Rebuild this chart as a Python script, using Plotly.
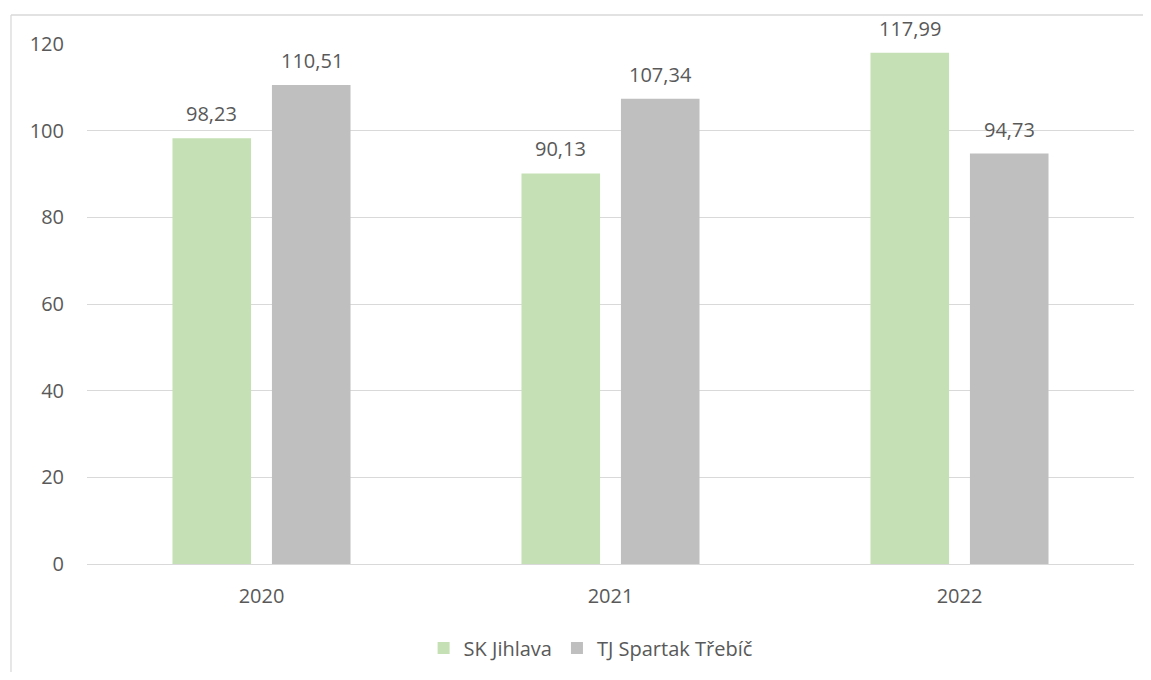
import plotly.graph_objects as go

# ── Data ───────────────────────────────────────────────────────────────────────
YEARS = ["2020", "2021", "2022"]
SK_JIHLAVA = [98.23, 90.13, 117.99]
TJ_TREBIC = [110.51, 107.34, 94.73]
Y_TICKS = [0, 20, 40, 60, 80, 100, 120]

# ── Design tokens ──────────────────────────────────────────────────────────────
GREEN = "#c5e0b4"
GREY = "#bfbfbf"
TEXT_COLOR = "#595959"
GRID_COLOR = "#d9d9d9"
FSIZE = 20
FONT = dict(family="Open Sans, Arial, sans-serif", size=FSIZE, color=TEXT_COLOR)

SERIES = [("SK Jihlava", SK_JIHLAVA, GREEN, -50),
          ("TJ Spartak Třebíč", TJ_TREBIC, GREY, 50)]

fig = go.Figure()
for name, vals, color, dx in SERIES:
    fig.add_trace(go.Bar(
        x=YEARS, y=vals, name=name,
        marker=dict(color=color, line=dict(width=0)),
    ))
    # value labels, Czech decimal comma (x by category index)
    for i, v in enumerate(vals):
        fig.add_annotation(
            x=i, y=v, text=f"{v:.2f}".replace(".", ","),
            showarrow=False, xshift=dx, yanchor="bottom", yshift=9,
            font=dict(size=FSIZE, color=TEXT_COLOR),
        )

# page body has an 8px margin, so the figure is sized to fit inside it
fig.update_layout(
    width=1135, height=664,
    font=FONT,
    plot_bgcolor="white",
    paper_bgcolor="white",
    margin=dict(l=79, r=9, t=36, b=108, autoexpand=False),
    barmode="group",
    bargap=0.43,
    bargroupgap=0.21,
    xaxis=dict(
        type="category",
        showgrid=False, showline=False, ticks="", ticklabelstandoff=18,
        tickfont=dict(size=FSIZE, color=TEXT_COLOR),
    ),
    yaxis=dict(
        range=[0, 120], tickvals=Y_TICKS,
        gridcolor=GRID_COLOR, gridwidth=1.3,
        zeroline=True, zerolinecolor=GRID_COLOR, zerolinewidth=1.3,
        showline=False, ticks="", ticklabelstandoff=22,
        tickfont=dict(size=FSIZE, color=TEXT_COLOR),
    ),
    legend=dict(
        orientation="h", x=0.481, xanchor="center", y=-0.1615, yanchor="middle",
        font=dict(size=FSIZE, color=TEXT_COLOR), itemwidth=30,
        traceorder="normal",
    ),
)

# outer chart border: only left and top edges are inside the picture
BORDER = dict(color=GRID_COLOR, width=1.3)
fig.add_shape(type="line", xref="paper", yref="paper",
              x0=-0.0726, x1=-0.0726, y0=-0.3, y1=1.0558, line=BORDER, layer="below")
fig.add_shape(type="line", xref="paper", yref="paper",
              x0=-0.0726, x1=1.06, y0=1.0558, y1=1.0558, line=BORDER, layer="below")

fig.write_html("out.html")
